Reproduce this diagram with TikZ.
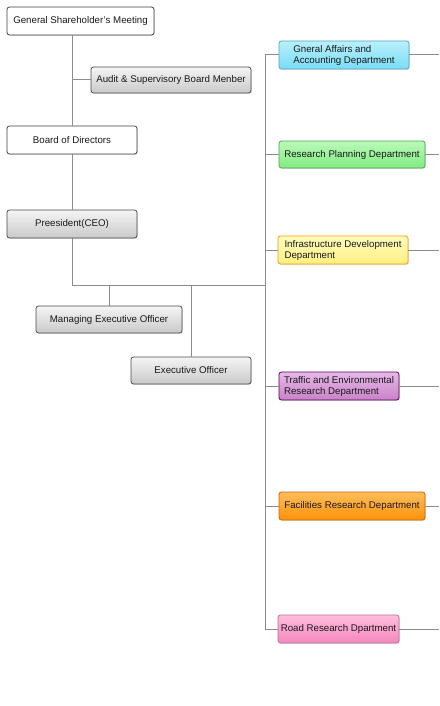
\documentclass[tikz,border=0pt]{standalone}
\usepackage{fontspec}
\setmainfont{Liberation Sans}
\usetikzlibrary{shadows}
\definecolor{lineC}{HTML}{8C8C8C}
\tikzset{
  x=1pt,y=-1pt,
  base/.style={rounded corners=2.5pt, inner sep=0pt, font=\fontsize{9.7}{11}\selectfont, text=black!90, align=left, line width=0.8pt,
    drop shadow={shadow xshift=0.8pt,shadow yshift=-0.8pt,opacity=0.25}},
  whitebox/.style={base, draw=black!75, fill=white},
  graybox/.style={base, draw=black!70, top color=gray!8, bottom color=gray!42},
  cyanbox/.style={base, draw=cyan!70!black!80, top color={rgb,255:red,185;green,240;blue,252}, bottom color={rgb,255:red,120;green,220;blue,245}},
  greenbox/.style={base, draw=green!50!black!70, top color={rgb,255:red,185;green,250;blue,185}, bottom color={rgb,255:red,130;green,235;blue,130}},
  yellowbox/.style={base, draw=orange!80!yellow, top color={rgb,255:red,255;green,252;blue,190}, bottom color={rgb,255:red,255;green,240;blue,130}},
  purplebox/.style={base, draw=violet!70!black, top color={rgb,255:red,232;green,185;blue,232}, bottom color={rgb,255:red,200;green,130;blue,200}},
  orangebox/.style={base, draw=orange!80!black, top color={rgb,255:red,255;green,190;blue,90}, bottom color={rgb,255:red,252;green,145;blue,10}},
  pinkbox/.style={base, draw=magenta!60!black!70, top color={rgb,255:red,255;green,190;blue,220}, bottom color={rgb,255:red,245;green,135;blue,190}},
  conn/.style={draw=lineC, line width=1pt},
}
\begin{document}
\begin{tikzpicture}
\useasboundingbox[fill=white] (0,0) rectangle (439,706);
% left nodes
\node[whitebox, minimum width=147pt, minimum height=28pt] (gsm) at (80.5,21) {General Shareholder's Meeting};
\node[graybox, minimum width=160pt, minimum height=26pt] (audit) at (171,80) {Audit \& Supervisory Board Menber};
\node[whitebox, minimum width=130pt, minimum height=28pt] (bod) at (72,140) {Board of Directors};
\node[graybox, minimum width=130pt, minimum height=28pt] (ceo) at (72,224) {Preesident(CEO)};
\node[graybox, minimum width=146pt, minimum height=27pt] (meo) at (109,319.5) {Managing Executive Officer};
\node[graybox, minimum width=120pt, minimum height=27pt] (eo) at (191,370.5) {Executive Officer};
% departments
\node[cyanbox, minimum width=130pt, minimum height=28pt] (ga) at (344,55) {Gneral Affairs and\\Accounting Department};
\node[greenbox, minimum width=146pt, minimum height=27pt] (rp) at (352,154.5) {Research Planning Department};
\node[yellowbox, minimum width=130pt, minimum height=28pt] (id) at (343,250) {Infrastructure Development\\Department};
\node[purplebox, minimum width=120pt, minimum height=28pt] (te) at (339,386) {Traffic and Environmental\\Research Department};
\node[orangebox, minimum width=146pt, minimum height=28pt] (fr) at (352,506) {Facilities Research Department};
\node[pinkbox, minimum width=121pt, minimum height=28pt] (rr) at (338.5,629) {Road Research Dpartment};
% coordinates
\coordinate (j) at (72,285);
\coordinate (tTop) at (265,55);
\coordinate (tBot) at (265,629);
\coordinate (ja) at (72,80);
\coordinate (jm) at (109,285);
\coordinate (je) at (191,285);
\coordinate (jt) at (265,285);
\foreach \n/\y in {ga/55, rp/154.5, id/250, te/386, fr/506, rr/629}{
  \coordinate (e\n) at (439,\y);
}
% connectors
\path[conn] (gsm.south -| bod.north) -- (bod.north);
\path[conn] (ja) -- (audit.west);
\path[conn] (bod.south) -- (ceo.north);
\path[conn] (ceo.south) -- (j) -- (jt);
\path[conn] (jm) -- (meo.north);
\path[conn] (je) -- (eo.north);
\path[conn] (tTop) -- (tBot);
\foreach \n in {ga,rp,id,te,fr,rr}{
  \path[conn] (\n.west) -- (\n.west -| tTop);
  \path[conn] (\n.east) -- (e\n);
}
\end{tikzpicture}
\end{document}
